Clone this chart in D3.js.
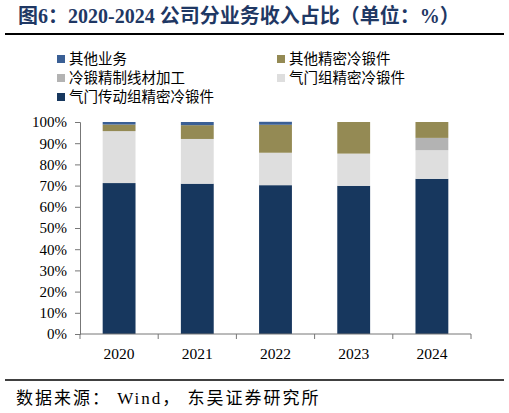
<!DOCTYPE html>
<html>
<head>
<meta charset="utf-8">
<script src="https://cdn.jsdelivr.net/npm/d3@7"></script>
<style>
  body { margin: 0; background: #fff; }
  text { font-family: "Liberation Serif", "Noto Sans CJK SC", serif; }
</style>
</head>
<body>
<script>
// categories and series (percent of revenue)
var years = ["2020", "2021", "2022", "2023", "2024"];
var seriesNames = ["气门传动组精密冷锻件", "气门组精密冷锻件", "冷锻精制线材加工", "其他精密冷锻件", "其他业务"];
var valveDrive = [71.2, 70.9, 70.2, 69.9, 73.2];
var valveGroup = [24.5, 21.1, 15.3, 15.2, 13.5];
var wireProc   = [0, 0, 0, 0, 5.8];
var otherCold  = [3.1, 6.5, 13.2, 14.9, 7.5];
var otherBiz   = [1.2, 1.5, 1.4, 0, 0];
var yTicks = [0, 10, 20, 30, 40, 50, 60, 70, 80, 90, 100];

var colors = ["#17375e", "#dedede", "#b3b3b3", "#948a54", "#3a5f95"];
var allSeries = [valveDrive, valveGroup, wireProc, otherCold, otherBiz];

var rows = years.map(function(y, i) {
  var r = { year: y };
  seriesNames.forEach(function(n, k) { r[n] = allSeries[k][i]; });
  return r;
});
var stacked = d3.stack().keys(seriesNames)(rows);

var svg = d3.select("body").append("svg")
  .attr("width", 509)
  .attr("height", 413);

// title
svg.append("text")
  .attr("x", 18).attr("y", 23)
  .style("font-size", "20px").style("font-weight", "bold")
  .style("fill", "#1f3864")
  .text("图6：2020-2024 公司分业务收入占比（单位：%）");

svg.append("line").attr("x1", 5).attr("x2", 504).attr("y1", 34).attr("y2", 34)
  .attr("stroke", "#000").attr("stroke-width", 2);

// legend
var legendOrder = [4, 3, 2, 1, 0];
legendOrder.forEach(function(k, j) {
  var lx = j % 2 === 0 ? 57 : 277;
  var ly = 59 + Math.floor(j / 2) * 19;
  svg.append("rect").attr("x", lx).attr("y", ly - 4).attr("width", 8).attr("height", 8)
    .attr("fill", colors[k]);
  svg.append("text").attr("x", lx + 12).attr("y", ly + 5)
    .style("font-size", "14.5px").style("fill", "#000")
    .text(seriesNames[k]);
});

var x = d3.scaleBand().domain(years).range([80, 471]).paddingInner(0.58).paddingOuter(0.29);
var y = d3.scaleLinear().domain([0, 100]).range([334, 122]);

var g = svg.append("g");
g.selectAll(".layer")
  .data(stacked)
  .enter()
  .append("g")
  .attr("fill", function(d, i) { return colors[i]; })
  .selectAll("rect")
  .data(function(d) { return d; })
  .enter()
  .append("rect")
  .attr("x", function(d) { return x(d.data.year); })
  .attr("width", x.bandwidth())
  .attr("y", function(d) { return y(d[1]); })
  .attr("height", function(d) { return y(d[0]) - y(d[1]); });

// y axis
var yAxis = svg.append("g").attr("transform", "translate(80,0)")
  .call(d3.axisLeft(y).tickValues(yTicks).tickSize(5).tickFormat(function(d) { return d + "%"; }));
yAxis.selectAll("text").style("font-size", "15px").style("fill", "#000").attr("x", -13);
yAxis.selectAll("line, path").attr("stroke", "#777");

// x axis with ticks between categories
var xAxis = svg.append("g").attr("transform", "translate(0,334)");
xAxis.append("line").attr("x1", 80).attr("x2", 471).attr("stroke", "#777");
d3.range(0, years.length + 1).forEach(function(i) {
  var tx = 80 + i * (391 / years.length);
  xAxis.append("line").attr("x1", tx).attr("x2", tx).attr("y1", 0).attr("y2", 5).attr("stroke", "#777");
});
xAxis.selectAll(".yl").data(years).enter().append("text")
  .attr("x", function(d) { return x(d) + x.bandwidth() / 2; })
  .attr("y", 25).attr("text-anchor", "middle")
  .style("font-size", "15.5px").style("fill", "#000")
  .text(function(d) { return d; });

// footer
svg.append("line").attr("x1", 5).attr("x2", 504).attr("y1", 380).attr("y2", 380)
  .attr("stroke", "#000").attr("stroke-width", 1.5);
svg.append("text").attr("x", 16).attr("y", 404)
  .style("font-size", "17px").style("fill", "#000")
  .style("letter-spacing", "2px")
  .text("数据来源： Wind， 东吴证券研究所");
</script>
</body>
</html>
